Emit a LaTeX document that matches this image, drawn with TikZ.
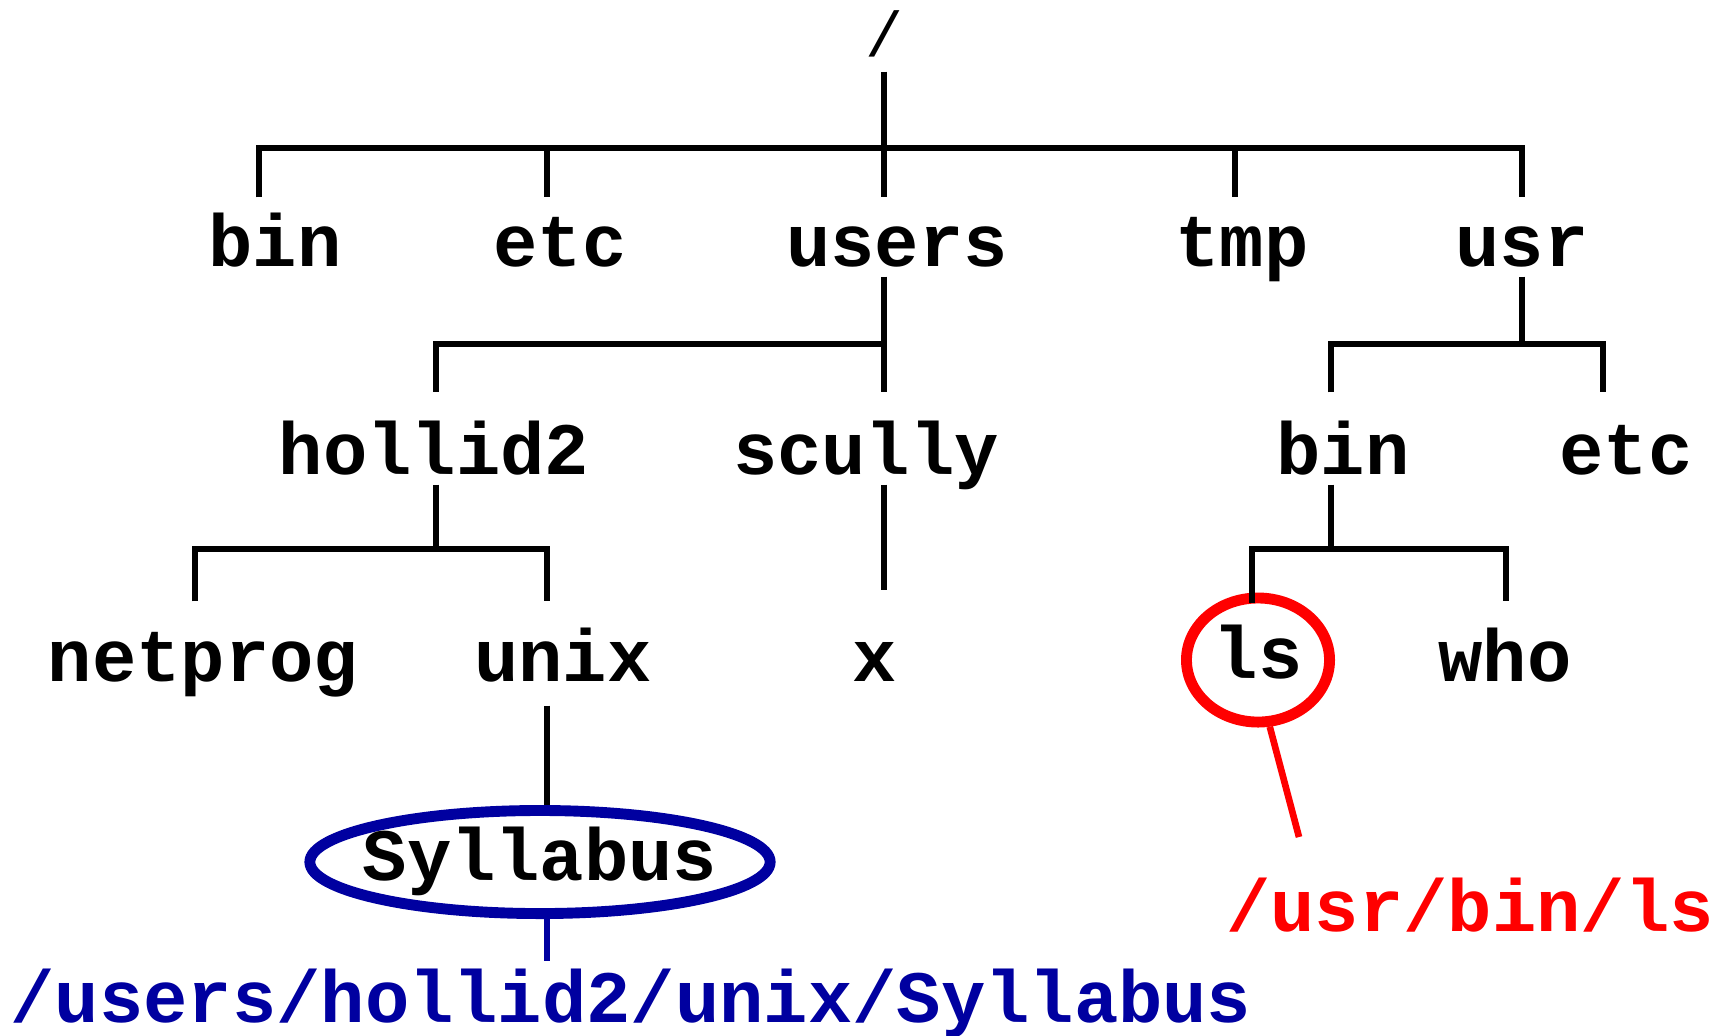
\documentclass[tikz,border=0pt]{standalone}
\usepackage{fontspec}
\setmainfont{Liberation Mono}
\usetikzlibrary{shapes.geometric}
\definecolor{pathblue}{RGB}{0,0,160}
\tikzset{
  dir/.style={font=\bfseries\fontsize{21}{25}\selectfont, anchor=base,
    inner sep=0pt, text height=0.46cm, text depth=0.1cm},
  branch/.style={line width=1.9pt},
  ring/.style={ellipse, draw, line width=3.1pt, anchor=center},
}

\begin{document}
\begin{tikzpicture}[x=0.01cm,y=-0.01cm]
  \useasboundingbox (0,0) rectangle (1722,1035);

  % directory names
  \node[dir,anchor=center,font=\fontsize{18}{22}\selectfont] (root) at (884,38) {/};
  \node[dir] (bin)     at (275,266)  {bin};
  \node[dir] (etc)     at (560,266)  {etc};
  \node[dir] (users)   at (897,266)  {users};
  \node[dir] (tmp)     at (1242,266) {tmp};
  \node[dir] (usr)     at (1522,266) {usr};
  \node[dir] (hollid2) at (434,474)  {hollid2};
  \node[dir] (scully)  at (866,474)  {scully};
  \node[dir] (ubin)    at (1343,474) {bin};
  \node[dir] (uetc)    at (1626,474) {etc};
  \node[dir] (netprog) at (203,681)  {netprog};
  \node[dir] (unix)    at (563,681)  {unix};
  \node[dir] (x)       at (875,681)  {x};
  \node[dir,ring,draw=red,minimum width=1.43cm,minimum height=1.24cm]
    (ls) at (1258,660) {ls};
  \node[dir] (who)     at (1505,681) {who};
  \node[dir,ring,draw=pathblue,inner xsep=-0.3cm,minimum width=4.6cm,
    minimum height=1.03cm] (syl) at (540,862) {Syllabus};

  % full path names
  \node[dir,text=pathblue] (sylpath) at (631,1022) {/users/hollid2/unix/Syllabus};
  \node[dir,text=red] (lspath) at (1470,931) {/usr/bin/ls};

  % bar under /
  \coordinate (hub) at (884,148);
  \coordinate (d1) at (259,148);
  \coordinate (d2) at (547,148);
  \coordinate (d4) at (1235,148);
  \coordinate (d5) at (1522,148);
  \draw[branch,shorten <=0.05cm] (root.south -| hub) -- (hub);
  \draw[branch,shorten <=0.22cm,shorten >=0.22cm]
    (d1 |- bin.north) |- (d5) -- (d5 |- usr.north);
  \draw[branch,shorten >=0.22cm] (d2) -- (d2 |- etc.north);
  \draw[branch,shorten >=0.22cm] (hub) -- (hub |- users.north);
  \draw[branch,shorten >=0.22cm] (d4) -- (d4 |- tmp.north);

  % users
  \coordinate (h2) at (884,344);
  \coordinate (d6) at (436,344);
  \draw[branch,shorten >=0.35cm] (users.south -| h2) -- (h2 |- scully.north);
  \draw[branch,shorten >=0.35cm] (h2) -- (d6) -- (d6 |- hollid2.north);

  % usr
  \coordinate (h3) at (1522,344);
  \coordinate (d7) at (1331,344);
  \coordinate (d8) at (1603,344);
  \draw[branch] (usr.south -| h3) -- (h3);
  \draw[branch,shorten <=0.35cm,shorten >=0.35cm]
    (d7 |- ubin.north) |- (d8) -- (d8 |- uetc.north);

  % hollid2
  \coordinate (h4) at (436,549);
  \coordinate (d9) at (195,549);
  \coordinate (d10) at (547,549);
  \draw[branch] (hollid2.south -| h4) -- (h4);
  \draw[branch,shorten <=0.33cm,shorten >=0.33cm]
    (d9 |- netprog.north) |- (d10) -- (d10 |- unix.north);

  % scully
  \draw[branch,shorten >=0.44cm] (scully.south -| hub) -- (hub |- x.north);

  % usr/bin
  \coordinate (h5) at (1331,549);
  \coordinate (d11) at (1252,549);
  \coordinate (d12) at (1506,549);
  \draw[branch] (ubin.south -| h5) -- (h5);
  \draw[branch,shorten <=-0.1cm,shorten >=0.33cm]
    (d11 |- ls.north) |- (d12) -- (d12 |- who.north);

  % unix/Syllabus and the two paths
  \draw[branch,shorten <=0.14cm] (unix.south -| d10) -- (d10 |- syl.north);
  \draw[branch,pathblue,shorten >=0.14cm] (syl.south -| d10) -- (d10 |- sylpath.north);
  \coordinate (lsend) at (1299,837);
  \draw[branch,red] (ls.280) -- (lsend);
\end{tikzpicture}
\end{document}
